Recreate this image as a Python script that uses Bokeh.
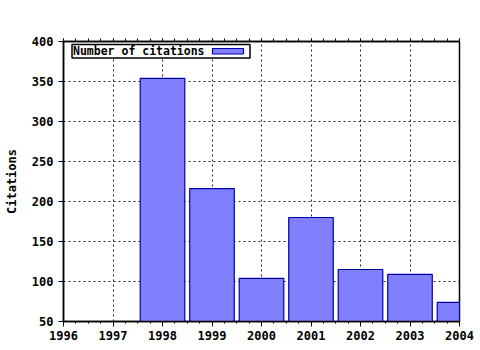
from bokeh.plotting import figure
from bokeh.models import (Range1d, LinearAxis, SingleIntervalTicker, BoxAnnotation,
                          Label, ColumnDataSource, CustomJSTickFormatter)
from bokeh.embed import file_html
from bokeh.resources import INLINE

years = [1998, 1999, 2000, 2001, 2002, 2003, 2004]
citations = [354, 216, 104, 180, 115, 109, 74]
series_name = "Number of citations"
y_label = "Citations"

FONT = "DejaVu Sans Mono"
FILL = "#8080ff"
EDGE = "#0000aa"

src = ColumnDataSource(dict(x=years, top=citations))

p = figure(width=480, height=350, output_backend="svg", toolbar_location=None,
           x_range=Range1d(1996, 2004), y_range=Range1d(50, 400),
           min_border_left=63, min_border_right=21, min_border_top=41,
           min_border_bottom=29, x_axis_location=None, y_axis_location=None)
p.background_fill_color = "white"
p.border_fill_color = "white"
p.outline_line_color = "black"
p.outline_line_width = 1.5

p.vbar(x="x", top="top", bottom=0, width=0.9, source=src,
       fill_color=FILL, line_color=EDGE, line_width=1.2)

xt = SingleIntervalTicker(interval=1, num_minor_ticks=4)
yt = SingleIntervalTicker(interval=50, num_minor_ticks=0)

def style(ax):
    ax.axis_line_color = "black"
    ax.axis_line_width = 1.5
    ax.major_tick_line_color = "black"
    ax.minor_tick_line_color = "black"
    ax.major_label_text_font = FONT
    ax.major_label_text_font_style = "bold"
    ax.major_label_text_font_size = "12px"
    ax.major_label_text_color = "black"

bottom = LinearAxis(ticker=xt)
style(bottom)
bottom.major_tick_out = 5
bottom.major_tick_in = 0
bottom.minor_tick_out = 2
bottom.minor_tick_in = 0
bottom.major_label_standoff = 4
p.add_layout(bottom, "below")

left = LinearAxis(ticker=yt, axis_label=y_label)
style(left)
left.major_tick_out = 5
left.major_tick_in = 0
left.minor_tick_out = 0
left.major_label_standoff = 5
left.axis_label_text_font = FONT
left.axis_label_text_font_style = "bold"
left.axis_label_text_font_size = "12px"
left.axis_label_text_color = "black"
left.axis_label_standoff = 10
p.add_layout(left, "left")

top = LinearAxis(ticker=xt, formatter=CustomJSTickFormatter(code="return ''"))
style(top)
top.major_tick_out = 3
top.major_tick_in = 0
top.minor_tick_out = 3
top.minor_tick_in = 0
top.major_label_standoff = 0
p.add_layout(top, "above")

p.xgrid.ticker = xt
p.ygrid.ticker = yt
for g in (p.xgrid, p.ygrid):
    g.grid_line_color = "#222222"
    g.grid_line_dash = "2 3"
    g.grid_line_width = 1

# legend (label first, swatch on the right, as in the original)
p.add_layout(BoxAnnotation(left=8.5, right=186.5, top=277, bottom=263.5,
                           left_units="screen", right_units="screen",
                           top_units="screen", bottom_units="screen",
                           fill_color="white", fill_alpha=1,
                           line_color="black", line_alpha=1, line_width=1.5))
p.add_layout(BoxAnnotation(left=149, right=180, top=273, bottom=267.5,
                           left_units="screen", right_units="screen",
                           top_units="screen", bottom_units="screen",
                           fill_color=FILL, fill_alpha=1,
                           line_color=EDGE, line_alpha=1, line_width=1.2))
p.add_layout(Label(x=9.5, y=270.3, x_units="screen", y_units="screen",
                   text=series_name, text_font=FONT, text_font_style="bold",
                   text_font_size="11.5px", text_baseline="middle",
                   text_color="black"))

open("out.html", "w").write(file_html(p, INLINE))
